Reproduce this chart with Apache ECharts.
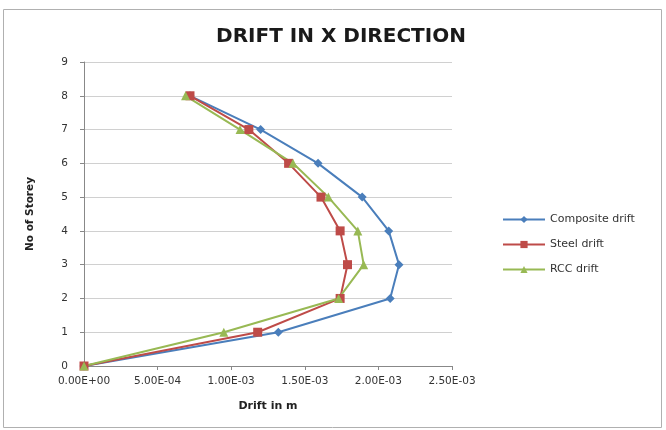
<!DOCTYPE html>
<html><head><meta charset="utf-8">
<script src="https://cdn.jsdelivr.net/npm/echarts@6/dist/echarts.min.js"></script>
<style>html,body{margin:0;padding:0;background:#fff}#c{width:666px;height:430px}</style>
</head><body><div id="c"></div>
<script>
const storeys = [0, 1, 2, 3, 4, 5, 6, 7, 8];
const compositeDrift = [0, 1.32e-3, 2.08e-3, 2.14e-3, 2.07e-3, 1.89e-3, 1.59e-3, 1.20e-3, 0.72e-3];
const steelDrift = [0, 1.18e-3, 1.74e-3, 1.79e-3, 1.74e-3, 1.61e-3, 1.39e-3, 1.12e-3, 0.72e-3];
const rccDrift = [0, 0.95e-3, 1.73e-3, 1.90e-3, 1.86e-3, 1.66e-3, 1.42e-3, 1.06e-3, 0.69e-3];
const seriesNames = ['Composite drift', 'Steel drift', 'RCC drift'];

const pairs = vals => vals.map((v, i) => [v, storeys[i]]);
const font = '"DejaVu Sans", "Liberation Sans", sans-serif';
const chart = echarts.init(document.getElementById('c'));
const mk = (name, vals, color, symbol, size) => ({
  name, type: 'line', data: pairs(vals), symbol, symbolSize: size,
  lineStyle: { color, width: 2 }, itemStyle: { color },
});
chart.setOption({
  animation: false,
  title: { text: 'DRIFT IN X DIRECTION', left: 336, textAlign: 'center', top: 22,
    textStyle: { fontFamily: font, fontSize: 20, fontWeight: 'bold', color: '#1a1a1a' } },
  graphic: [{ type: 'rect', shape: { x: 3.5, y: 9.5, width: 658, height: 418 },
    style: { fill: 'none', stroke: '#b0b0b0', lineWidth: 1 } }],
  legend: { orient: 'vertical', left: 497, top: 209, itemGap: 14, itemWidth: 42, itemHeight: 9,
    data: seriesNames, textStyle: { fontFamily: font, fontSize: 11, color: '#333' } },
  grid: { left: 84, top: 62, width: 368, height: 304 },
  xAxis: { type: 'value', min: 0, max: 2.5e-3, interval: 0.5e-3,
    name: 'Drift in m', nameLocation: 'middle', nameGap: 35,
    nameTextStyle: { fontFamily: font, fontSize: 11, fontWeight: 'bold', color: '#222' },
    axisLine: { show: true, lineStyle: { color: '#888' } },
    axisTick: { show: true, length: 4, lineStyle: { color: '#888' } },
    splitLine: { show: false },
    axisLabel: { fontFamily: font, fontSize: 10.5, color: '#333', margin: 10,
      formatter: v => { let s = v.toExponential(2).toUpperCase(); return s.replace(/E([+-])(\d)$/, 'E$10$2'); } } },
  yAxis: { type: 'value', min: 0, max: 9, interval: 1,
    name: 'No of Storey', nameLocation: 'middle', nameGap: 48, nameRotate: 90,
    nameTextStyle: { fontFamily: font, fontSize: 10.5, fontWeight: 'bold', color: '#222' },
    axisLine: { show: true, lineStyle: { color: '#888' } },
    axisTick: { show: true, length: 4, lineStyle: { color: '#888' } },
    splitLine: { show: true, lineStyle: { color: '#d0d0d0' } },
    axisLabel: { fontFamily: font, fontSize: 10.5, color: '#333', margin: 16 } },
  series: [
    mk(seriesNames[0], compositeDrift, '#4A7EBB', 'diamond', 9),
    mk(seriesNames[1], steelDrift, '#BE4B48', 'rect', 9),
    mk(seriesNames[2], rccDrift, '#98B954', 'triangle', 9),
  ],
});
</script></body></html>
